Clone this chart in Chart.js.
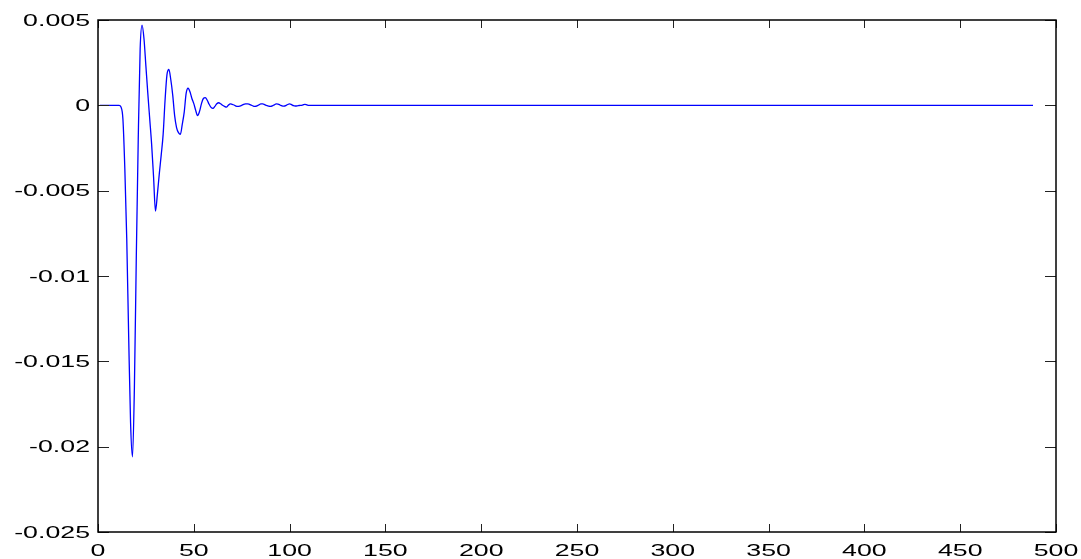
<!DOCTYPE html>
<html>
<head>
<meta charset="utf-8">
<title>Señal</title>
<script src="https://cdn.jsdelivr.net/npm/chart.js@4.4.0/dist/chart.umd.min.js"></script>
<style>
  body { margin: 0; background: #fff; }
  canvas { display: block; }
</style>
</head>
<body>
<canvas id="grafica" width="1081" height="559"></canvas>
<script>
// Valores de la señal, una muestra por índice (1, 2, 3, ...)
const valores = [
    0, 0, 0, 0, 0, 0, 0, 0, 0, 0, 0,
    -0.0001, -0.0008, -0.0037, -0.0078, -0.0135, -0.0186, -0.0206, -0.0165, -0.0088, -0.0020,
    0.0033, 0.0047, 0.0039, 0.0023, 0.0007, -0.0008, -0.0023, -0.0042, -0.0062, -0.0052,
    -0.0040, -0.0029, -0.0017, 0.0003, 0.0018, 0.0021, 0.0015, 0.0006, -0.0006, -0.0013,
    -0.0016, -0.0017, -0.0011, -0.0004, 0.0007, 0.0010, 0.0008, 0.0004, 0.0001, -0.0003,
    -0.0006, -0.00035, 0.0001, 0.0004, 0.00045, 0.0003, 0.00006, -0.00012, -0.00018, -0.00006,
    0.00009, 0.00015, 0.00009, 0, -0.00006, -0.0001, 0, 0.00009, 0.00006, 0.00002,
    -0.00004, -0.00006, -0.00004, 0, 0.00005, 0.00008, 0.00009, 0.00006, 0.00001, -0.00004,
    -0.00006, -0.00003, 0.00003, 0.00008, 0.00008, 0.00004, -0.00001, -0.00005, -0.00006, -0.00003,
    0.00003, 0.00008, 0.00007, 0.00002, -0.00003, -0.00005, -0.00002, 0.00005, 0.00008, 0.00004,
    -0.00002, -0.00004, -0.00003, -0.00001, 0, 0.00003, 0.00006, 0.00003, 0
];

// Después de la muestra 110 la señal queda plana hasta el final
const ultimaMuestra = 488;
const valorFinal = 0;

// Marcas de los ejes
const xTickValues = [0, 50, 100, 150, 200, 250, 300, 350, 400, 450, 500];
const xTickLabels = ["0", "50", "100", "150", "200", "250", "300", "350", "400", "450", "500"];
const yTickValues = [-0.025, -0.02, -0.015, -0.01, -0.005, 0, 0.005];
const yTickLabels = ["-0.025", "-0.02", "-0.015", "-0.01", "-0.005", "0", "0.005"];

// Puntos para la gráfica
const puntos = valores.map((v, i) => ({ x: i + 1, y: v }));
puntos.push({ x: ultimaMuestra, y: valorFinal });

// Plugin para dibujar la caja, las marcas hacia adentro y las etiquetas (estilo MATLAB)
const ejesMatlab = {
    id: "ejesMatlab",
    afterDraw(chart) {
        const ctx = chart.ctx;
        const a = chart.chartArea;
        const x = chart.scales.x;
        const y = chart.scales.y;
        ctx.save();

        // marcas
        ctx.strokeStyle = "#222";
        ctx.lineWidth = 1;
        ctx.beginPath();
        xTickValues.forEach(v => {
            const px = Math.round(x.getPixelForValue(v)) + 0.5;
            ctx.moveTo(px, a.bottom); ctx.lineTo(px, a.bottom - 8);
            ctx.moveTo(px, a.top); ctx.lineTo(px, a.top + 8);
        });
        yTickValues.forEach(v => {
            const py = Math.round(y.getPixelForValue(v)) + 0.5;
            ctx.moveTo(a.left, py); ctx.lineTo(a.left + 11, py);
            ctx.moveTo(a.right, py); ctx.lineTo(a.right - 11, py);
        });
        ctx.stroke();

        // caja
        ctx.strokeStyle = "#000";
        ctx.lineWidth = 1.5;
        ctx.strokeRect(a.left, a.top, a.right - a.left, a.bottom - a.top);

        // etiquetas (estiradas a lo ancho como en la imagen original)
        ctx.fillStyle = "#000";
        ctx.font = '16.5px "Liberation Sans", Arial, sans-serif';
        const estirar = 1.62;
        ctx.textAlign = "center";
        ctx.textBaseline = "top";
        xTickValues.forEach((v, i) => {
            ctx.save();
            ctx.translate(x.getPixelForValue(v), a.bottom + 11);
            ctx.scale(estirar, 1);
            ctx.fillText(xTickLabels[i], 0, 0);
            ctx.restore();
        });
        ctx.textAlign = "right";
        ctx.textBaseline = "middle";
        yTickValues.forEach((v, i) => {
            ctx.save();
            ctx.translate(a.left - 8, y.getPixelForValue(v) + 1);
            ctx.scale(estirar, 1);
            ctx.fillText(yTickLabels[i], 0, 0);
            ctx.restore();
        });
        ctx.restore();
    }
};

const ctxGrafica = document.getElementById("grafica").getContext("2d");
new Chart(ctxGrafica, {
    type: "line",
    data: {
        datasets: [
            {
                label: "Señal",
                data: puntos,
                borderColor: "#0000ff",
                borderWidth: 1.3,
                pointRadius: 0,
                cubicInterpolationMode: "monotone",
                fill: false
            }
        ]
    },
    options: {
        responsive: false,
        animation: false,
        layout: { padding: { top: 20, right: 25, left: 0, bottom: 0 } },
        plugins: {
            legend: { display: false },
            tooltip: { enabled: false }
        },
        scales: {
            x: {
                type: "linear",
                min: 0,
                max: 500,
                afterBuildTicks: s => { s.ticks = xTickValues.map(v => ({ value: v })); },
                afterFit: s => { s.height = 27; },
                ticks: { display: false },
                grid: { display: false },
                border: { display: false }
            },
            y: {
                type: "linear",
                min: -0.025,
                max: 0.005,
                afterBuildTicks: s => { s.ticks = yTickValues.map(v => ({ value: v })); },
                afterFit: s => { s.width = 98; },
                ticks: { display: false },
                grid: { display: false },
                border: { display: false }
            }
        }
    },
    plugins: [ejesMatlab]
});
</script>
</body>
</html>
